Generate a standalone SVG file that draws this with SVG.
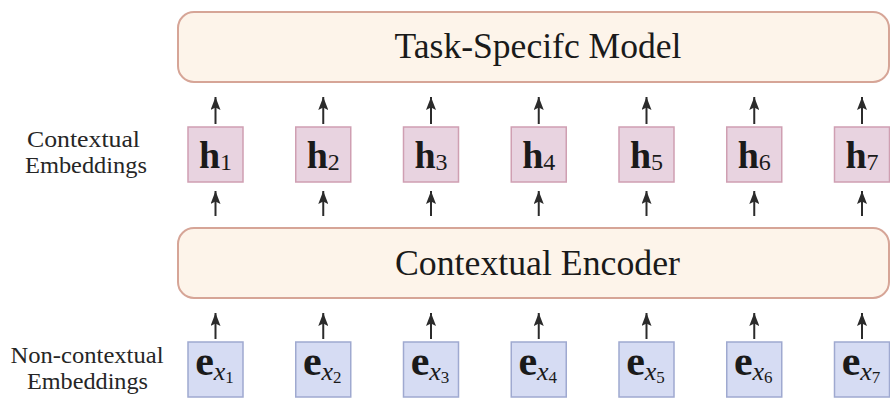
<svg xmlns="http://www.w3.org/2000/svg" width="890" height="399" viewBox="0 0 890 399">
<defs>
<marker id="ah" viewBox="0 0 13 10" refX="13" refY="5" markerWidth="13" markerHeight="10" markerUnits="userSpaceOnUse" orient="auto">
<path d="M0,0 L13,5 L0,10 L2.5,5 Z" fill="#2b2b2b"/>
</marker>
</defs>
<style>
.big{fill:#fdf4ea;stroke:#d6a597;stroke-width:2}
.hbox{fill:#e8d3e0;stroke:#cf9fb2;stroke-width:1.5}
.ebox{fill:#d6dcf3;stroke:#9fa9d0;stroke-width:1.5}
text{font-family:'Liberation Serif','Times New Roman','DejaVu Serif',serif}
.title{font-size:35px;fill:#1a1a1a;text-anchor:middle}
.lab{font-size:24px;fill:#262626;text-anchor:middle}
.sym{fill:#1a1a1a;text-anchor:middle}
.hb{font-size:38px;font-weight:bold}
.sub{font-size:24px}
.eb{font-size:42px;font-weight:bold}
.xi{font-size:26px;font-style:italic}
.sub2{font-size:17px}
.arr{stroke:#2b2b2b;stroke-width:2;fill:none;marker-end:url(#ah)}
</style>
<rect width="890" height="399" fill="#ffffff"/>
<g id="task-model">
<rect class="big" x="178" y="12" width="711" height="70" rx="16"/>
<text class="title" x="538" y="58" textLength="287" lengthAdjust="spacingAndGlyphs">Task-Specifc Model</text>
</g>
<g id="encoder">
<rect class="big" x="178" y="228" width="711" height="70" rx="16"/>
<text class="title" x="537.5" y="275" textLength="285" lengthAdjust="spacingAndGlyphs">Contextual Encoder</text>
</g>
<g id="label-contextual">
<text class="lab" x="83.5" y="147" textLength="113" lengthAdjust="spacingAndGlyphs">Contextual</text>
<text class="lab" x="86" y="173" textLength="122" lengthAdjust="spacingAndGlyphs">Embeddings</text>
</g>
<g id="label-noncontextual">
<text class="lab" x="87" y="363" textLength="153" lengthAdjust="spacingAndGlyphs">Non-contextual</text>
<text class="lab" x="87.5" y="389" textLength="121" lengthAdjust="spacingAndGlyphs">Embeddings</text>
</g>
<g id="h1"><rect class="hbox" x="188" y="127" width="55" height="55"/><text class="sym" x="215.5" y="168"><tspan class="hb">h</tspan><tspan class="sub" dy="2">1</tspan></text></g>
<g id="h2"><rect class="hbox" x="295.75" y="127" width="55" height="55"/><text class="sym" x="323.25" y="168"><tspan class="hb">h</tspan><tspan class="sub" dy="2">2</tspan></text></g>
<g id="h3"><rect class="hbox" x="403.5" y="127" width="55" height="55"/><text class="sym" x="431" y="168"><tspan class="hb">h</tspan><tspan class="sub" dy="2">3</tspan></text></g>
<g id="h4"><rect class="hbox" x="511.25" y="127" width="55" height="55"/><text class="sym" x="538.75" y="168"><tspan class="hb">h</tspan><tspan class="sub" dy="2">4</tspan></text></g>
<g id="h5"><rect class="hbox" x="619" y="127" width="55" height="55"/><text class="sym" x="646.5" y="168"><tspan class="hb">h</tspan><tspan class="sub" dy="2">5</tspan></text></g>
<g id="h6"><rect class="hbox" x="726.75" y="127" width="55" height="55"/><text class="sym" x="754.25" y="168"><tspan class="hb">h</tspan><tspan class="sub" dy="2">6</tspan></text></g>
<g id="h7"><rect class="hbox" x="834.5" y="127" width="55" height="55"/><text class="sym" x="862" y="168"><tspan class="hb">h</tspan><tspan class="sub" dy="2">7</tspan></text></g>
<g id="e1"><rect class="ebox" x="188" y="342" width="55" height="55"/><text class="sym" x="214.5" y="375"><tspan class="eb">e</tspan><tspan class="xi" dy="5">x</tspan><tspan class="sub2" dy="3">1</tspan></text></g>
<g id="e2"><rect class="ebox" x="295.75" y="342" width="55" height="55"/><text class="sym" x="322.25" y="375"><tspan class="eb">e</tspan><tspan class="xi" dy="5">x</tspan><tspan class="sub2" dy="3">2</tspan></text></g>
<g id="e3"><rect class="ebox" x="403.5" y="342" width="55" height="55"/><text class="sym" x="430" y="375"><tspan class="eb">e</tspan><tspan class="xi" dy="5">x</tspan><tspan class="sub2" dy="3">3</tspan></text></g>
<g id="e4"><rect class="ebox" x="511.25" y="342" width="55" height="55"/><text class="sym" x="537.75" y="375"><tspan class="eb">e</tspan><tspan class="xi" dy="5">x</tspan><tspan class="sub2" dy="3">4</tspan></text></g>
<g id="e5"><rect class="ebox" x="619" y="342" width="55" height="55"/><text class="sym" x="645.5" y="375"><tspan class="eb">e</tspan><tspan class="xi" dy="5">x</tspan><tspan class="sub2" dy="3">5</tspan></text></g>
<g id="e6"><rect class="ebox" x="726.75" y="342" width="55" height="55"/><text class="sym" x="753.25" y="375"><tspan class="eb">e</tspan><tspan class="xi" dy="5">x</tspan><tspan class="sub2" dy="3">6</tspan></text></g>
<g id="e7"><rect class="ebox" x="834.5" y="342" width="55" height="55"/><text class="sym" x="861" y="375"><tspan class="eb">e</tspan><tspan class="xi" dy="5">x</tspan><tspan class="sub2" dy="3">7</tspan></text></g>
<g id="connectors">
<line class="arr" x1="215.5" y1="124" x2="215.5" y2="97"/>
<line class="arr" x1="323.25" y1="124" x2="323.25" y2="97"/>
<line class="arr" x1="431" y1="124" x2="431" y2="97"/>
<line class="arr" x1="538.75" y1="124" x2="538.75" y2="97"/>
<line class="arr" x1="646.5" y1="124" x2="646.5" y2="97"/>
<line class="arr" x1="754.25" y1="124" x2="754.25" y2="97"/>
<line class="arr" x1="862" y1="124" x2="862" y2="97"/>
<line class="arr" x1="215.5" y1="216" x2="215.5" y2="191"/>
<line class="arr" x1="323.25" y1="216" x2="323.25" y2="191"/>
<line class="arr" x1="431" y1="216" x2="431" y2="191"/>
<line class="arr" x1="538.75" y1="216" x2="538.75" y2="191"/>
<line class="arr" x1="646.5" y1="216" x2="646.5" y2="191"/>
<line class="arr" x1="754.25" y1="216" x2="754.25" y2="191"/>
<line class="arr" x1="862" y1="216" x2="862" y2="191"/>
<line class="arr" x1="215.5" y1="339" x2="215.5" y2="313"/>
<line class="arr" x1="323.25" y1="339" x2="323.25" y2="313"/>
<line class="arr" x1="431" y1="339" x2="431" y2="313"/>
<line class="arr" x1="538.75" y1="339" x2="538.75" y2="313"/>
<line class="arr" x1="646.5" y1="339" x2="646.5" y2="313"/>
<line class="arr" x1="754.25" y1="339" x2="754.25" y2="313"/>
<line class="arr" x1="862" y1="339" x2="862" y2="313"/>
</g>
</svg>
